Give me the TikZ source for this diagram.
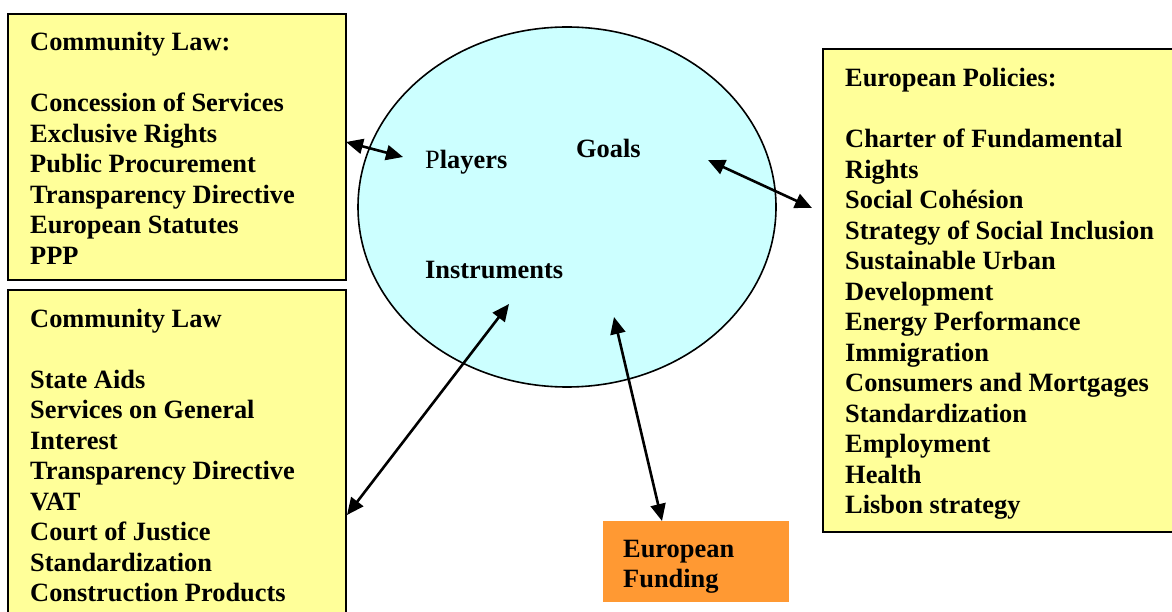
\documentclass[tikz,border=0pt]{standalone}
\usepackage{fontspec}
\setmainfont{Liberation Serif}
\usetikzlibrary{arrows.meta,shapes.geometric}
\definecolor{lawyellow}{HTML}{FFFF99}
\definecolor{corecyan}{HTML}{CCFFFF}
\definecolor{fundorange}{HTML}{FF9933}
\begin{document}
\begin{tikzpicture}[x=1pt,y=-1pt,
  listbox/.style={draw=black, line width=2pt, fill=lawyellow, rectangle, inner sep=0pt},
  fundbox/.style={fill=fundorange, rectangle, inner sep=0pt},
  core/.style={ellipse, draw=black, line width=1.6pt, fill=corecyan, inner sep=0pt},
  txt/.style={anchor=base west, inner sep=0pt, font=\fontsize{26.4}{30.5}\selectfont\bfseries},
  link/.style={line width=2.6pt, {Triangle[length=17pt,width=15pt]}-{Triangle[length=17pt,width=15pt]}}]
\useasboundingbox (0,0) rectangle (1172,612);
\clip (0,0) rectangle (1172,612);

% boxes and the central ellipse
\node[listbox, minimum width=338pt, minimum height=266pt] (law1) at (177,147) {};
\node[listbox, minimum width=338pt, minimum height=330pt] (law2) at (177,455) {};
\node[listbox, minimum width=357pt, minimum height=483pt] (policies) at (1001.5,290.5) {};
\node[fundbox, minimum width=186pt, minimum height=81pt] (funding) at (696,561.5) {};
\node[core, minimum width=418pt, minimum height=360pt] (core) at (567,207) {};

% box contents
\node[txt] (law1txt) at (30,51) {\parbox[t]{310pt}{\raggedright
  Community Law:\\ \mbox{}\\
  Concession of Services\\
  Exclusive Rights\\
  Public Procurement\\
  Transparency Directive\\
  European Statutes\\
  PPP}};
\node[txt] (law2txt) at (30,327) {\parbox[t]{310pt}{\raggedright
  Community Law\\ \mbox{}\\
  State Aids\\
  Services on General\\
  Interest\\
  Transparency Directive\\
  VAT\\
  Court of Justice\\
  Standardization\\
  Construction Products}};
\node[txt] (poltxt) at (845,87) {\parbox[t]{330pt}{\raggedright
  European Policies:\\ \mbox{}\\
  Charter of Fundamental\\
  Rights\\
  Social Cohésion\\
  Strategy of Social Inclusion\\
  Sustainable Urban\\
  Development\\
  Energy Performance\\
  Immigration\\
  Consumers and Mortgages\\
  Standardization\\
  Employment\\
  Health\\
  Lisbon strategy}};
\node[txt, font=\fontsize{26.4}{30}\selectfont\bfseries] (fundtxt) at (623,557) {\parbox[t]{160pt}{\raggedright
  European\\
  Funding}};

% labels inside the ellipse
\node[txt] (players) at (425,169) {{\mdseries P}layers};
\node[txt] (goals) at (576,158) {Goals};
\node[txt] (instr) at (425,279) {Instruments};

% connector end points
\coordinate (law1end) at (346,142);
\coordinate (playersend) at (403,157);
\coordinate (goalsend) at (708,160);
\coordinate (policiesend) at (812,208);
\coordinate (instrend) at (509,304);
\coordinate (law2end) at (347,515);
\coordinate (coreend) at (614,317);
\coordinate (fundend) at (662,521);

% double-headed connectors
\draw[link] (law1end) -- (playersend);
\draw[link] (goalsend) -- (policiesend);
\draw[link] (instrend) -- (law2end);
\draw[link] (coreend) -- (fundend);
\end{tikzpicture}
\end{document}
